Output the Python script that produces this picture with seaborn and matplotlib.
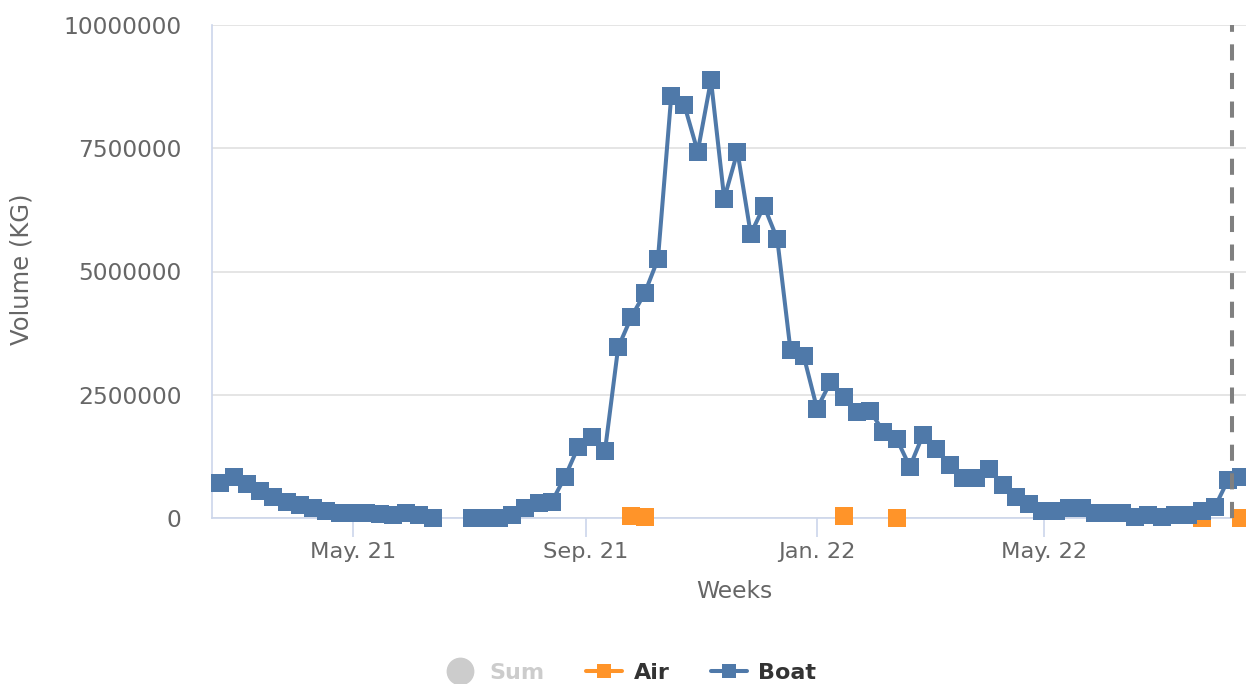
import numpy as np
import pandas as pd
import matplotlib
matplotlib.use("Agg")
import matplotlib.pyplot as plt
import matplotlib.dates as mdates
from matplotlib.ticker import FuncFormatter, FixedLocator
from matplotlib.lines import Line2D
import seaborn as sns

# ---------------- data ----------------
first_week = "2021-02-20"
n_weeks = 78
boat_kg = [720000, 840000, 690000, 540000, 420000, 330000, 260000, 200000, 150000, 110000,
           100000, 100000, 90000, 60000, 110000, 60000, 10000, np.nan, np.nan, 5000,
           5000, 10000, 60000, 200000, 300000, 330000, 840000, 1450000, 1650000, 1350000,
           3460000, 4080000, 4560000, 5250000, 8550000, 8370000, 7430000, 8880000, 6480000, 7430000,
           5760000, 6330000, 5660000, 3400000, 3280000, 2220000, 2750000, 2450000, 2140000, 2180000,
           1750000, 1610000, 1040000, 1690000, 1390000, 1080000, 820000, 820000, 1000000, 670000,
           430000, 290000, 140000, 140000, 200000, 200000, 100000, 100000, 100000, 20000,
           60000, 20000, 60000, 60000, 140000, 220000, 770000, 840000]
air_weeks = ["2021-09-25", "2021-10-02", "2022-01-15", "2022-02-12", "2022-07-23", "2022-08-13"]
air_kg = [50000, 15000, 50000, 5000, 5000, 5000]
marker_date = "2022-08-08"
tick_dates = ["2021-05-01", "2021-09-01", "2022-01-01", "2022-05-01"]
y_ticks = [0, 2500000, 5000000, 7500000, 10000000]
legend_labels = ["Sum", "Air", "Boat"]

BOAT = "#4f79a9"
AIR = "#ff9429"
SUM = "#cccccc"

# ---------------- frames ----------------
dates = pd.date_range(first_week, periods=n_weeks, freq="7D")
boat = pd.DataFrame({"week": dates, "kg": boat_kg})
boat["seg"] = boat["kg"].isna().cumsum()
boat = boat.dropna()

air = pd.DataFrame({"week": pd.to_datetime(air_weeks), "kg": air_kg})
gap = air["week"].diff().dt.days.fillna(0) > 7
air["seg"] = gap.cumsum()

# ---------------- figure ----------------
sns.set_style("white")
plt.rcParams["font.family"] = ["DejaVu Sans"]

W, H = 1246, 684
fig = plt.figure(figsize=(W / 100, H / 100), dpi=100)
L, R, T, B = 212, 1256, 25, 518
ax = fig.add_axes([L / W, (H - B) / H, (R - L) / W, (B - T) / H])

common = dict(estimator=None, marker="s", markersize=12.3, markeredgewidth=0,
              linewidth=2.9, legend=False, clip_on=False, ax=ax)
sns.lineplot(data=air, x="week", y="kg", units="seg", color=AIR, zorder=3, **common)
sns.lineplot(data=boat, x="week", y="kg", units="seg", color=BOAT, zorder=4, **common)

ax.axvline(pd.Timestamp(marker_date), color="#808080", lw=2.9, dashes=(4.0, 3.1), zorder=5)

# axes limits (positions)
x0 = pd.Timestamp("2021-05-01")
ppd = 1.894
ax.set_xlim(x0 - pd.Timedelta(days=(353 - L) / ppd), x0 + pd.Timedelta(days=(R - 353) / ppd))
ax.set_ylim(0, 10000000)

ax.xaxis.set_major_locator(FixedLocator(mdates.date2num(pd.to_datetime(tick_dates))))
ax.xaxis.set_major_formatter(mdates.DateFormatter("%b. %y"))
ax.yaxis.set_major_locator(FixedLocator(y_ticks))
ax.yaxis.set_major_formatter(FuncFormatter(lambda v, p: f"{int(v)}"))

ax.grid(axis="y", color="#e3e3e3", lw=1.3)
ax.grid(axis="x", visible=False)
ax.set_axisbelow(True)
for s in ["top", "right"]:
    ax.spines[s].set_visible(False)
for s in ["left", "bottom"]:
    ax.spines[s].set_color("#ccd6eb")
    ax.spines[s].set_linewidth(1.2)

ax.tick_params(axis="x", length=14, width=1.2, color="#ccd6eb", pad=3,
               labelsize=16.2, labelcolor="#666666", direction="out", bottom=True)
ax.tick_params(axis="y", length=0, pad=22, labelsize=16.8, labelcolor="#666666")

ax.set_xlabel("Weeks", fontsize=16.8, color="#666666", va="center")
ax.xaxis.set_label_coords((734 - L) / (R - L), -(592 - B) / (B - T))
ax.set_ylabel("Volume (KG)", fontsize=17.5, color="#666666", va="center")
ax.yaxis.set_label_coords((22 - L) / (R - L), (B - 269) / (B - T))

handles = [
    Line2D([], [], ls="none", marker="o", ms=19, color=SUM),
    Line2D([], [], color=AIR, lw=2.9, marker="s", ms=10, mew=0),
    Line2D([], [], color=BOAT, lw=2.9, marker="s", ms=10, mew=0),
]
leg = fig.legend(handles, legend_labels, loc="center", bbox_to_anchor=(629 / W, 1 - 673 / H),
                 ncol=3, frameon=False, prop={"weight": "bold", "size": 16},
                 handlelength=1.65, handletextpad=0.5, columnspacing=1.85)
for t, c in zip(leg.get_texts(), [SUM, "#333333", "#333333"]):
    t.set_color(c)

fig.savefig("out.png", dpi=100)
